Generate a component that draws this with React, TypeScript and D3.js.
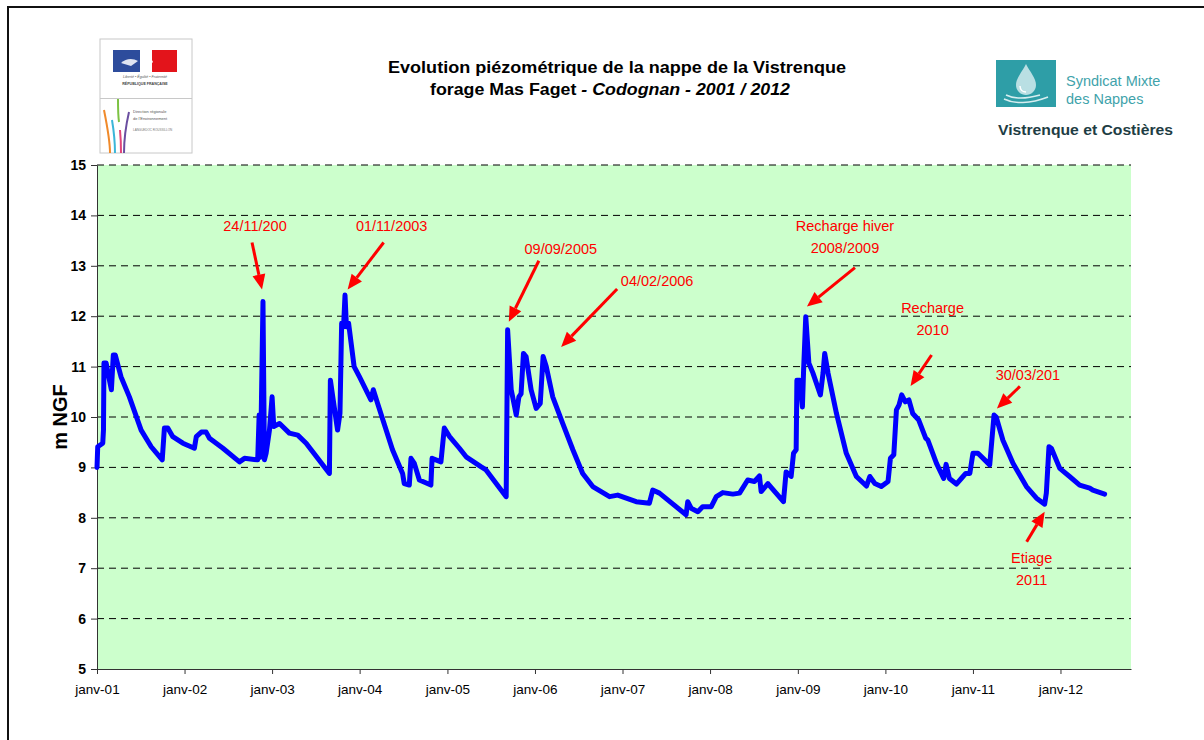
import { useEffect, useRef } from 'react';
import * as d3 from 'd3';

// relevés piézométriques
const dates = [
  '2001-01-01', '2001-01-04', '2001-01-25', '2001-01-28', '2001-01-30', '2001-02-08', '2001-02-19', '2001-03-02',
  '2001-03-10', '2001-03-18', '2001-04-11', '2001-05-16', '2001-07-04', '2001-08-15', '2001-09-30', '2001-10-09',
  '2001-10-23', '2001-11-13', '2001-12-25', '2002-02-11', '2002-02-19', '2002-03-12', '2002-04-01', '2002-04-15',
  '2002-06-10', '2002-08-18', '2002-09-08', '2002-11-02', '2002-11-08', '2002-11-14', '2002-11-24', '2002-11-30',
  '2002-12-07', '2002-12-21', '2003-01-01', '2003-01-08', '2003-02-01', '2003-03-14', '2003-04-18', '2003-05-23',
  '2003-08-28', '2003-09-01', '2003-09-17', '2003-10-01', '2003-10-11', '2003-10-18', '2003-10-26', '2003-11-01',
  '2003-11-07', '2003-11-16', '2003-12-09', '2003-12-31', '2004-02-17', '2004-02-27', '2004-03-16', '2004-05-17',
  '2004-06-28', '2004-07-05', '2004-07-26', '2004-08-02', '2004-08-16', '2004-09-06', '2004-10-24', '2004-10-29',
  '2004-12-05', '2004-12-19', '2005-01-10', '2005-02-20', '2005-03-20', '2005-05-22', '2005-06-11', '2005-09-03',
  '2005-09-09', '2005-09-24', '2005-10-15', '2005-10-26', '2005-11-04', '2005-11-14', '2005-11-25', '2005-12-16',
  '2006-01-06', '2006-01-23', '2006-02-04', '2006-02-17', '2006-03-16', '2006-04-27', '2006-06-08', '2006-07-19',
  '2006-08-30', '2006-11-08', '2006-12-12', '2007-02-27', '2007-04-23', '2007-05-07', '2007-06-04', '2007-09-23',
  '2007-09-30', '2007-10-14', '2007-11-11', '2007-12-01', '2008-01-06', '2008-01-27', '2008-02-23', '2008-04-05',
  '2008-05-03', '2008-06-06', '2008-07-04', '2008-07-25', '2008-08-01', '2008-08-29', '2008-11-02', '2008-11-13',
  '2008-12-04', '2008-12-14', '2008-12-25', '2008-12-28', '2009-01-09', '2009-01-20', '2009-01-25', '2009-02-03',
  '2009-02-16', '2009-03-05', '2009-04-05', '2009-04-16', '2009-04-23', '2009-05-07', '2009-06-11', '2009-07-22',
  '2009-09-02', '2009-10-14', '2009-10-28', '2009-11-18', '2009-12-15', '2010-01-12', '2010-01-22', '2010-02-05',
  '2010-02-16', '2010-02-27', '2010-03-10', '2010-03-25', '2010-04-09', '2010-04-25', '2010-05-20', '2010-06-18',
  '2010-06-27', '2010-08-02', '2010-09-01', '2010-09-11', '2010-09-25', '2010-10-24', '2010-11-17', '2010-12-02',
  '2010-12-19', '2011-01-01', '2011-01-22', '2011-02-19', '2011-03-12', '2011-03-30', '2011-04-08', '2011-05-06',
  '2011-06-17', '2011-08-12', '2011-09-23', '2011-10-27', '2011-11-03', '2011-11-14', '2011-11-24', '2011-12-29',
  '2012-02-08', '2012-03-21', '2012-05-02', '2012-05-15', '2012-07-03',
];

const levels = [
  9.0, 9.41, 9.48, 9.74, 11.07, 11.07, 10.8, 10.54,
  11.23, 11.23, 10.8, 10.4, 9.74, 9.41, 9.15, 9.78,
  9.78, 9.61, 9.48, 9.38, 9.61, 9.7, 9.7, 9.58,
  9.38, 9.11, 9.18, 9.15, 10.04, 9.2, 12.29, 9.15,
  9.28, 9.74, 10.4, 9.81, 9.87, 9.68, 9.64, 9.48,
  8.88, 10.73, 10.2, 9.74, 10.07, 11.86, 11.79, 12.42,
  11.79, 11.86, 11.0, 10.8, 10.34, 10.54, 10.27, 9.35,
  8.88, 8.68, 8.65, 9.18, 9.08, 8.75, 8.65, 9.18,
  9.11, 9.78, 9.61, 9.38, 9.21, 9.01, 8.95, 8.42,
  11.73, 10.54, 10.04, 10.4, 10.46, 11.26, 11.2, 10.54,
  10.17, 10.27, 11.2, 11.0, 10.4, 9.87, 9.35, 8.88,
  8.62, 8.42, 8.45, 8.32, 8.29, 8.55, 8.49, 8.06,
  8.32, 8.19, 8.12, 8.22, 8.22, 8.42, 8.5, 8.47,
  8.49, 8.75, 8.72, 8.83, 8.52, 8.68, 8.32, 8.91,
  8.82, 9.28, 9.35, 10.73, 10.73, 10.2, 10.93, 11.99,
  11.07, 10.87, 10.44, 10.87, 11.26, 10.87, 10.07, 9.28,
  8.82, 8.63, 8.82, 8.68, 8.62, 8.72, 9.18, 9.25,
  10.14, 10.24, 10.44, 10.3, 10.34, 10.07, 9.94, 9.58,
  9.54, 9.08, 8.78, 9.06, 8.78, 8.67, 8.8, 8.88,
  8.88, 9.28, 9.28, 9.15, 9.05, 10.04, 10.0, 9.54,
  9.08, 8.62, 8.39, 8.27, 8.49, 9.41, 9.38, 8.98,
  8.82, 8.65, 8.59, 8.55, 8.47,
];

const yTicks = [5, 6, 7, 8, 9, 10, 11, 12, 13, 14, 15];

// annotations : texte + point visé par la flèche
const annoLabels = [
  ['24/11/200'],
  ['01/11/2003'],
  ['09/09/2005'],
  ['04/02/2006'],
  ['Recharge hiver', '2008/2009'],
  ['Recharge', '2010'],
  ['30/03/201'],
  ['Etiage', '2011'],
];
const annoDates = ['2002-11-20', '2003-11-12', '2005-09-14', '2006-04-20', '2009-02-08', '2010-04-16', '2011-04-11', '2011-10-27'];
const annoValues = [12.53, 12.53, 11.89, 11.39, 12.19, 10.615, 10.17, 8.12];

// décalages en pixels (queue de flèche, texte) par rapport à la pointe
const annoTail: [number, number][] = [[-10, -47], [36, -47], [30, -61], [56, -58], [48, -39], [21, -31], [23, -22], [-18, 30]];
const annoText: [number, number][] = [[-7, -58], [44, -58], [52, -68], [96, -61], [38, -76], [22, -73], [31, -28], [-13, 51]];

const W = 1204;
const H = 740;
const left = 97;
const right = 1131;
const top = 165;
const bottom = 669;
const font = 'Liberation Sans, Arial, sans-serif';

export default function App() {
  const axRef = useRef<SVGGElement>(null);

  const parse = d3.timeParse('%Y-%m-%d');
  const x = d3.scaleTime()
    .domain([new Date(2001, 0, 1), new Date(2012, 9, 21)])
    .range([left, right]);
  const y = d3.scaleLinear().domain([5, 15]).range([bottom, top]);

  const pts = dates.map((d, i) => [parse(d) as Date, levels[i]] as [Date, number]);
  const line = d3.line<[Date, number]>().x(d => x(d[0])).y(d => y(d[1]));

  useEffect(() => {
    const g = d3.select(axRef.current);
    g.selectAll('*').remove();

    const yAxis = d3.axisLeft(y).tickValues(yTicks).tickSize(6).tickSizeOuter(0).tickFormat(d3.format('d'));
    const ya = g.append('g').attr('transform', `translate(${left},0)`).call(yAxis);
    ya.select('.domain').attr('stroke', '#333');
    ya.selectAll('line').attr('stroke', '#333');
    ya.selectAll('text')
      .attr('x', -11)
      .style('font-family', font)
      .style('font-size', '14px')
      .style('font-weight', 'bold')
      .attr('fill', '#000');

    const xAxis = d3.axisBottom(x)
      .ticks(d3.timeYear.every(1))
      .tickSize(5)
      .tickSizeOuter(0)
      .tickFormat(d => `janv-${d3.timeFormat('%y')(d as Date)}`);
    const xa = g.append('g').attr('transform', `translate(0,${bottom})`).call(xAxis);
    xa.select('.domain').attr('stroke', '#333');
    xa.selectAll('line').attr('stroke', '#333');
    xa.selectAll('text')
      .attr('y', 15)
      .style('font-family', font)
      .style('font-size', '13.5px')
      .attr('fill', '#000');
  }, []);

  return (
    <svg width={W} height={H} style={{ position: 'absolute', left: 0, top: 0, background: '#fff' }}>
      {/* cadre */}
      <rect x={8} y={7} width={W} height={H} fill="none" stroke="#111" strokeWidth={2} />

      {/* logo préfecture / DIREN */}
      <g>
        <rect x={100} y={39} width={92} height={114} fill="#fff" stroke="#c8c8c8" />
        <rect x={113} y={50} width={27} height={22} fill="#2d4c9c" />
        <rect x={152} y={50} width={25} height={22} fill="#e3141b" />
        <path d="M140,50 L152,50 L150,56 L153,62 L149,66 L151,72 L140,72 Z" fill="#fff" />
        <path d="M121,63 C126,58 133,58 138,61 L131,66 Z" fill="#dfe4f2" />
        <text x={145} y={78} textAnchor="middle" fontFamily={font} fontSize={3.6} fontStyle="italic" fill="#555">Liberté • Égalité • Fraternité</text>
        <text x={145} y={85} textAnchor="middle" fontFamily={font} fontSize={3.6} fontWeight="bold" fill="#444">RÉPUBLIQUE FRANÇAISE</text>
        <line x1={100} y1={98.5} x2={192} y2={98.5} stroke="#c8c8c8" />
        <path d="M104,110 C107,125 110,140 110,153" stroke="#f08a2a" strokeWidth={2} fill="none" />
        <path d="M118,99 C118,108 118,115 119,122" stroke="#7cc242" strokeWidth={2} fill="none" />
        <path d="M112,120 C114,132 115,143 115,153" stroke="#3bb6d8" strokeWidth={2} fill="none" />
        <path d="M120,130 C121,140 121,147 121,153" stroke="#e2457a" strokeWidth={2} fill="none" />
        <path d="M129,112 C126,125 124,140 124,153" stroke="#6a4ea0" strokeWidth={2} fill="none" />
        <text x={133} y={113} fontFamily={font} fontSize={4} fill="#555">Direction régionale</text>
        <text x={133} y={120} fontFamily={font} fontSize={4} fill="#555">de l'Environnement</text>
        <text x={133} y={131} fontFamily={font} fontSize={3} fill="#777">LANGUEDOC ROUSSILLON</text>
      </g>

      {/* titre */}
      <text x={617} y={73} textAnchor="middle" fontFamily={font} fontSize={16.5} fontWeight="bold" fill="#000"
        textLength={458} lengthAdjust="spacingAndGlyphs">
        Evolution piézométrique de la nappe de la Vistrenque
      </text>
      <text x={610} y={95} textAnchor="middle" fontFamily={font} fontSize={16.5} fontWeight="bold" fill="#000"
        textLength={360} lengthAdjust="spacingAndGlyphs">
        forage Mas Faget <tspan fontStyle="italic">- Codognan - 2001 / 2012</tspan>
      </text>

      {/* logo syndicat */}
      <g>
        <rect x={996} y={60} width={60} height={47} fill="#2e9ea7" />
        <path d="M1026,64 C1022,72 1016,78 1016,85 C1016,91 1021,95 1026,95 C1031,95 1036,91 1036,85 C1036,78 1030,72 1026,64 Z" fill="#b9dfe3" />
        <path d="M1020,86 C1020,90 1023,92 1026,92" stroke="#fff" strokeWidth={1.5} fill="none" />
        <path d="M1004,99 C1014,104 1030,104 1048,97 M1006,95 C1014,99 1026,99 1040,95" stroke="#d7eef0" strokeWidth={1.5} fill="none" />
        <text x={1066} y={86} fontFamily={font} fontSize={14.5} fill="#3fa3ab">Syndicat Mixte</text>
        <text x={1066} y={104} fontFamily={font} fontSize={14.5} fill="#3fa3ab">des Nappes</text>
        <text x={998} y={135} fontFamily={font} fontSize={15.5} fontWeight="bold" fill="#1e3d44" textLength={175} lengthAdjust="spacingAndGlyphs">
          Vistrenque et Costières
        </text>
      </g>

      {/* zone de tracé */}
      <rect x={left} y={top} width={right - left} height={bottom - top} fill="#ccffcc" />
      {yTicks.filter(v => v > 5).map(v => (
        <line key={v} x1={left} x2={right} y1={y(v)} y2={y(v)} stroke="#000" strokeWidth={1} strokeDasharray="7,5" />
      ))}

      <g ref={axRef} />

      <text transform={`translate(67,${y(10)}) rotate(-90)`} textAnchor="middle" fontFamily={font} fontSize={20} fontWeight="bold" fill="#000">
        m NGF
      </text>

      <path d={line(pts) ?? ''} fill="none" stroke="#0000ff" strokeWidth={5} strokeLinejoin="round" strokeLinecap="round" />

      {/* annotations */}
      {annoLabels.map((lines, i) => {
        const tx = x(parse(annoDates[i]) as Date);
        const ty = y(annoValues[i]);
        const sx = tx + annoTail[i][0];
        const sy = ty + annoTail[i][1];
        const ang = Math.atan2(ty - sy, tx - sx);
        const hl = 15;
        const hw = 6.5;
        const bx = tx - hl * Math.cos(ang);
        const by = ty - hl * Math.sin(ang);
        const px = -Math.sin(ang);
        const py = Math.cos(ang);
        const head = `M${tx},${ty} L${bx + px * hw},${by + py * hw} L${bx - px * hw},${by - py * hw} Z`;
        return (
          <g key={i}>
            <line x1={sx} y1={sy} x2={bx} y2={by} stroke="#ff0000" strokeWidth={3} />
            <path d={head} fill="#ff0000" />
            {lines.map((t, j) => (
              <text key={j} x={tx + annoText[i][0]} y={ty + annoText[i][1] + j * 22} textAnchor="middle"
                fontFamily={font} fontSize={14.5} fill="#ff0000">{t}</text>
            ))}
          </g>
        );
      })}
    </svg>
  );
}
